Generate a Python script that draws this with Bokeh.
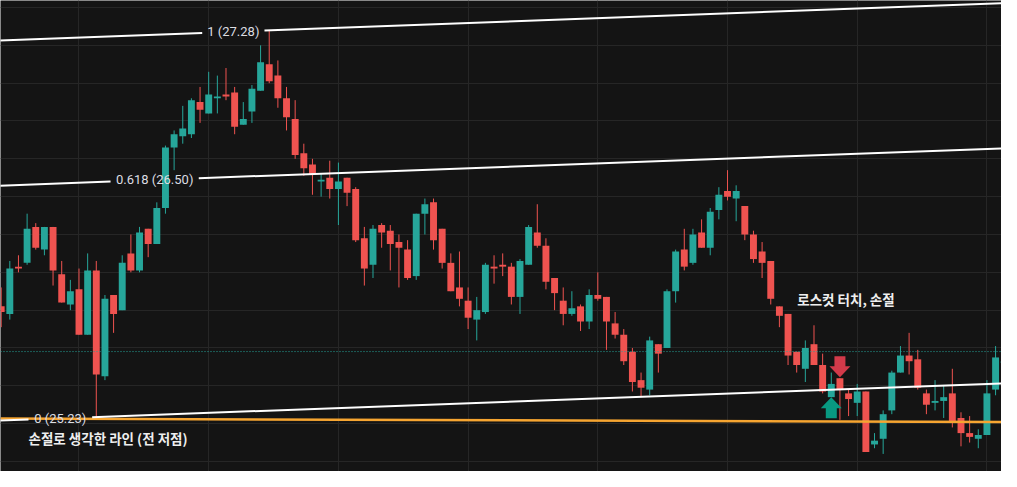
from bokeh.plotting import figure
from bokeh.models import Range1d, FixedTicker, ColumnDataSource, Span
from bokeh.core.properties import value
from bokeh.embed import file_html
from bokeh.resources import INLINE

# ---------------- data ----------------
open_ = [25.82, 25.78, 26.03, 26.05, 26.24, 26.12, 26.24, 25.99, 25.83, 25.91,
         25.67, 26.01, 25.45, 25.88, 25.80, 26.10, 26.01, 26.23, 26.15, 26.34,
         26.66, 26.72, 26.73, 26.90, 26.84, 26.92, 26.94, 26.95, 26.78, 26.85,
         26.96, 27.10, 27.04, 26.92, 26.81, 26.63, 26.57, 26.48, 26.50, 26.44,
         26.50, 26.44, 26.18, 26.04, 26.25, 26.22, 26.16, 26.12, 25.98, 26.31,
         26.37, 26.23, 26.05, 25.92, 25.85, 25.75, 25.79, 26.03, 26.04, 26.03,
         25.87, 26.04, 26.21, 26.14, 25.97, 25.85, 25.78, 25.82, 25.74, 25.88,
         25.87, 25.73, 25.67, 25.58, 25.43, 25.38, 25.62, 25.60, 25.90, 26.12,
         26.05, 26.21, 26.13, 26.33, 26.43, 26.39, 26.35, 26.20, 26.11, 26.06,
         25.82, 25.78, 25.58, 25.49, 25.62, 25.51, 25.34, 25.44, 25.36, 25.31,
         25.37, 25.09, 25.12, 25.27, 25.47, 25.56, 25.54, 25.36, 25.31, 25.32,
         25.36, 25.23, 25.15, 25.12, 25.14, 25.38, 25.52, 25.51]
high_ = [25.92, 26.06, 26.09, 26.31, 26.26, 26.24, 26.24, 26.06, 25.96, 26.02,
         26.10, 26.06, 25.88, 25.88, 26.09, 26.20, 26.24, 26.23, 26.37, 26.67,
         26.75, 26.88, 26.92, 26.98, 27.06, 27.04, 27.08, 26.98, 26.90, 26.99,
         27.20, 27.28, 27.12, 26.98, 26.91, 26.68, 26.60, 26.52, 26.59, 26.58,
         26.50, 26.45, 26.24, 26.25, 26.26, 26.25, 26.20, 26.17, 26.31, 26.39,
         26.39, 26.23, 26.10, 26.11, 25.92, 25.87, 26.05, 26.09, 26.10, 26.05,
         26.07, 26.25, 26.36, 26.18, 25.97, 25.92, 25.90, 25.83, 25.91, 26.00,
         25.87, 25.79, 25.70, 25.60, 25.47, 25.66, 25.62, 25.91, 26.12, 26.23,
         26.23, 26.28, 26.34, 26.45, 26.54, 26.46, 26.35, 26.22, 26.16, 26.06,
         25.82, 25.78, 25.58, 25.64, 25.72, 25.57, 25.47, 25.44, 25.38, 25.41,
         25.37, 25.15, 25.27, 25.48, 25.61, 25.68, 25.59, 25.38, 25.43, 25.40,
         25.49, 25.26, 25.24, 25.17, 25.43, 25.61, 25.70, 25.67]
low_ = [25.71, 25.75, 26.00, 26.04, 26.12, 26.09, 25.93, 25.84, 25.80, 25.67,
        25.67, 25.23, 25.43, 25.68, 25.80, 26.00, 26.00, 26.08, 26.15, 26.31,
        26.54, 26.68, 26.71, 26.79, 26.84, 26.84, 26.91, 26.73, 26.78, 26.79,
        26.96, 27.00, 26.87, 26.75, 26.60, 26.51, 26.41, 26.40, 26.39, 26.25,
        26.35, 26.16, 25.93, 25.97, 26.13, 26.01, 25.92, 25.96, 25.96, 26.20,
        26.12, 26.02, 25.90, 25.82, 25.70, 25.64, 25.78, 25.94, 25.98, 25.83,
        25.78, 26.04, 26.13, 25.91, 25.80, 25.72, 25.77, 25.69, 25.70, 25.85,
        25.59, 25.65, 25.51, 25.37, 25.34, 25.35, 25.47, 25.60, 25.84, 26.01,
        26.04, 26.13, 26.09, 26.28, 26.38, 26.27, 26.17, 26.05, 25.97, 25.83,
        25.71, 25.51, 25.47, 25.42, 25.51, 25.36, 25.34, 25.22, 25.24, 25.24,
        25.05, 25.07, 25.04, 25.25, 25.47, 25.46, 25.38, 25.25, 25.27, 25.23,
        25.18, 25.08, 25.10, 25.07, 25.14, 25.35, 25.48, 25.51]
close_ = [25.79, 26.02, 26.02, 26.23, 26.13, 26.24, 26.01, 25.84, 25.90, 25.67,
          26.01, 25.46, 25.86, 25.78, 26.05, 26.01, 26.21, 26.15, 26.34, 26.66,
          26.73, 26.76, 26.91, 26.86, 26.94, 26.93, 26.93, 26.77, 26.81, 26.97,
          27.11, 27.01, 26.92, 26.82, 26.62, 26.55, 26.52, 26.49, 26.44, 26.48,
          26.42, 26.17, 26.02, 26.23, 26.21, 26.15, 26.13, 25.97, 26.31, 26.36,
          26.17, 26.05, 25.90, 25.86, 25.76, 25.80, 26.04, 26.02, 26.03, 25.87,
          26.06, 26.24, 26.14, 25.95, 25.89, 25.78, 25.81, 25.74, 25.88, 25.86,
          25.74, 25.67, 25.53, 25.42, 25.39, 25.64, 25.57, 25.90, 26.11, 26.03,
          26.20, 26.13, 26.32, 26.41, 26.40, 26.43, 26.20, 26.07, 26.05, 25.86,
          25.77, 25.56, 25.51, 25.60, 25.51, 25.37, 25.41, 25.38, 25.33, 25.37,
          25.05, 25.11, 25.25, 25.47, 25.56, 25.53, 25.39, 25.30, 25.32, 25.34,
          25.21, 25.15, 25.13, 25.14, 25.36, 25.55, 25.53, 25.54]

last_price = 25.581

fib_levels = [0.0, 0.618, 1.0]
fib_texts = ["0 (25.23)", "0.618 (26.50)", "1 (27.28)"]
channel_base_x = [11, 117]
channel_base_price = [25.235, 25.415]
channel_width = 2.01

stop_line_x = [-0.08, 117.6]
stop_line_price = [25.227, 25.208]

signal_index = [96, 97]
signal_side = ["buy", "sell"]

notes = ["손절로 생각한 라인 (전 저점)", "로스컷 터치, 손절"]

x_grid_ticks = [9, 24, 39, 54, 69, 84, 99, 114]
y_grid_ticks = [24.8, 25.0, 25.2, 25.4, 25.6, 25.8, 26.0, 26.2, 26.4, 26.6,
                26.8, 27.0, 27.2, 27.4]

# ---------------- style / layout ----------------
BG = "#141414"
GRID = "#262626"
UP = "#26a69a"
DOWN = "#ef5350"
X0, X1 = -0.078, 115.685
Y0, Y1 = 24.947, 27.437
XEND = 117.6
PX_X = 1 / 8.647      # candle units per pixel
PX_Y = 1 / 189.2      # price units per pixel

p = figure(width=1001, height=471, x_range=Range1d(X0, X1), y_range=Range1d(Y0, Y1),
           output_backend="svg", toolbar_location=None, min_border=0,
           x_axis_location=None, y_axis_location=None,
           background_fill_color=BG, border_fill_color=BG, outline_line_color=None)
p.xgrid.ticker = FixedTicker(ticks=x_grid_ticks)
p.ygrid.ticker = FixedTicker(ticks=y_grid_ticks)
p.grid.grid_line_color = GRID
p.grid.grid_line_width = 1

# ---------------- candles ----------------
idx = list(range(len(open_)))
colors = [UP if c >= o else DOWN for o, c in zip(open_, close_)]
src = ColumnDataSource(dict(
    x=idx, o=open_, h=high_, l=low_, c=close_,
    top=[max(o, c) for o, c in zip(open_, close_)],
    bottom=[min(o, c) for o, c in zip(open_, close_)],
    color=colors))
p.segment(x0="x", y0="l", x1="x", y1="h", line_color="color", line_width=1, source=src)
p.vbar(x="x", width=0.8, top="top", bottom="bottom", fill_color="color",
       line_color=None, source=src)

# last price line
p.add_layout(Span(location=last_price, dimension="width", line_color=UP,
                  line_dash="1 2", line_width=1))

# ---------------- stop-loss (orange) line ----------------
p.line(stop_line_x, stop_line_price, line_color="#f6a531", line_width=2.5)

# ---------------- fib channel ----------------
slope = (channel_base_price[1] - channel_base_price[0]) / (channel_base_x[1] - channel_base_x[0])


def level_price(x, lev):
    return channel_base_price[0] + slope * (x - channel_base_x[0]) + lev * channel_width


label_centers = [6.84, 17.75, 26.85]
label_half_gaps = [3.68, 5.1, 3.6]
xs, ys = [], []
for lev, cx, hg in zip(fib_levels, label_centers, label_half_gaps):
    for a, b in ((X0 - 1, cx - hg), (cx + hg, XEND)):
        xs.append([a, b])
        ys.append([level_price(a, lev), level_price(b, lev)])
p.multi_line(xs, ys, line_color="#ffffff", line_width=2)

p.text(x=label_centers, y=[level_price(cx, lev) for cx, lev in zip(label_centers, fib_levels)],
       text=fib_texts, text_align="center", text_baseline="middle",
       text_font=value("Roboto"), text_font_size="13px", text_color="#dcdde2")

# ---------------- signal arrows ----------------
arrow_xs, arrow_ys, arrow_cols = [], [], []
shape = [(0, 0), (10.5, 11), (5.5, 11), (5.5, 21), (-5.5, 21), (-5.5, 11), (-10.5, 11)]
for i, side in zip(signal_index, signal_side):
    if side == "sell":
        tip = high_[i] + 1 * PX_Y
        sgn, col = 1, "#d23a4a"
    else:
        tip = low_[i]
        sgn, col = -1, "#089981"
    arrow_xs.append([i + dx * PX_X for dx, dy in shape])
    arrow_ys.append([tip + sgn * dy * PX_Y for dx, dy in shape])
    arrow_cols.append(col)
p.patches(arrow_xs, arrow_ys, fill_color=arrow_cols, line_color=None)

# ---------------- notes ----------------
p.text(x=[label_centers[0] - label_half_gaps[0]], y=[25.122], text=[notes[0]],
       text_align="left", text_baseline="middle",
       text_font=value("Noto Sans CJK KR"), text_font_size="13.5px",
       text_font_style="bold", text_color="#eeeeee")
p.text(x=[97.7], y=[25.859], text=[notes[1]],
       text_align="center", text_baseline="middle",
       text_font=value("Noto Sans CJK KR"), text_font_size="13.5px",
       text_font_style="bold", text_color="#eeeeee")

open("out.html", "w").write(file_html(p, INLINE))
